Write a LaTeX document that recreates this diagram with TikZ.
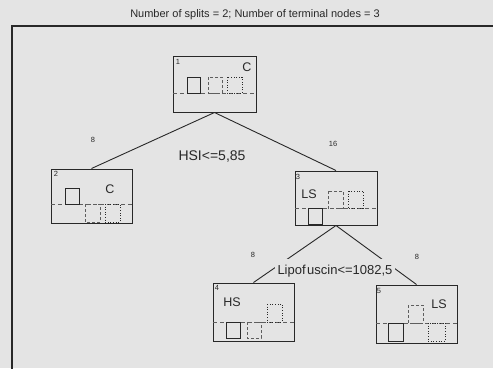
\documentclass[tikz,border=0pt]{standalone}
\usepackage{fontspec}
\setmainfont{Liberation Sans}
\definecolor{paper}{RGB}{228,228,228}
\definecolor{ink}{RGB}{40,40,40}
\begin{document}
\begin{tikzpicture}[x=1pt,y=-1pt,
  nbox/.style={draw=ink, line width=1pt, inner sep=0pt},
  conn/.style={draw=ink, line width=0.9pt},
  framebox/.style={draw=ink, line width=1.4pt},
  sq/.style={draw=ink, line width=0.9pt},
  dsq/.style={draw=ink!75, line width=0.8pt, dash pattern=on 3pt off 2pt},
  tsq/.style={draw=ink, line width=0.9pt, dash pattern=on 0.9pt off 1.7pt},
  baseln/.style={draw=ink!75, line width=0.7pt, dash pattern=on 4pt off 3pt},
  cls/.style={font=\fontsize{12.5}{12.5}\selectfont, text=ink, inner sep=0pt},
  num/.style={font=\fontsize{7.5}{7.5}\selectfont, text=ink, inner sep=0pt},
  cond/.style={font=\fontsize{13.5}{14}\selectfont, text=ink, inner sep=0pt},
  ttl/.style={font=\fontsize{11}{11}\selectfont, text=ink, inner sep=0pt}]
\useasboundingbox (0,0) rectangle (493,368);
\fill[paper] (0,0) rectangle (493,368);
\clip (0,0) rectangle (493,368);
\draw[framebox] (12,26) rectangle (505,385);
\node[ttl] (title) at (255,15) {Number of splits = 2; Number of terminal nodes = 3};

% tree nodes
\node[nbox, minimum width=83pt, minimum height=56pt] (n1) at (214.5,84) {};
\node[nbox, minimum width=81pt, minimum height=54pt] (n2) at (91.5,196) {};
\node[nbox, minimum width=82pt, minimum height=54pt] (n3) at (336,198) {};
\node[nbox, minimum width=81pt, minimum height=58pt] (n4) at (253.5,312) {};
\node[nbox, minimum width=81pt, minimum height=58pt] (n5) at (416.5,314) {};

% connectors
\draw[conn] (n1.south) -- (n2.north);
\draw[conn] (n1.south) -- (n3.north);
\draw[conn] (n3.south) -- (n4.north);
\draw[conn] (n3.south) -- (n5.north);

% split labels
\node[cond, font=\fontsize{14}{14}\selectfont] (s1) at (212,157) {HSI<=5,85};
\node[cond, font=\fontsize{13}{14}\selectfont, fill=paper, inner xsep=3pt, inner ysep=6pt] (s2) at (335,271) {Lipof\kern1.5pt uscin<=1082,5};

% branch counts
\node[num] (c1) at (93,140) {8};
\node[num] (c2) at (333,144) {16};
\node[num] (c3) at (253,255) {8};
\node[num] (c4) at (417,257) {8};

% node 1
\draw[baseln] (173,93) -- (256,93);
\draw[sq] (187,77) rectangle (200,93);
\draw[dsq] (208,77) rectangle (222,93);
\draw[tsq] (227,77) rectangle (242,93);
\node[num] (l1) at (178,62) {1};
\node[cls] (k1) at (247,67) {C};

% node 2
\draw[baseln] (51,204) -- (132,204);
\draw[sq] (65,188) rectangle (79,204);
\draw[dsq] (85,204) rectangle (100,222);
\draw[tsq] (105,204) rectangle (120,222);
\node[num] (l2) at (56,174) {2};
\node[cls] (k2) at (110,189) {C};

% node 3
\draw[baseln] (295,208) -- (377,208);
\draw[sq] (308,208) rectangle (322,224);
\draw[dsq] (328,191) rectangle (343,208);
\draw[tsq] (348,191) rectangle (363,208);
\node[num] (l3) at (298,177) {3};
\node[cls] (k3) at (309,194) {LS};

% node 4
\draw[baseln] (213,322) -- (294,322);
\draw[sq] (226,322) rectangle (240,338);
\draw[dsq] (247,322) rectangle (261,338);
\draw[tsq] (267,304) rectangle (282,322);
\node[num] (l4) at (217,288) {4};
\node[cls] (k4) at (232,302) {HS};

% node 5
\draw[baseln] (376,323) -- (457,323);
\draw[sq] (388,323) rectangle (403,341);
\draw[dsq] (408,305) rectangle (423,323);
\draw[tsq] (428,323) rectangle (445,341);
\node[num] (l5) at (379,291) {5};
\node[cls] (k5) at (439,304) {LS};
\end{tikzpicture}
\end{document}
